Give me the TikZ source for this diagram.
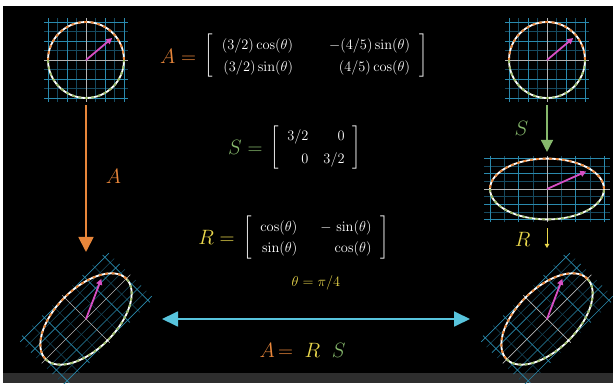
\documentclass[tikz,border=0pt]{standalone}
\usepackage{amsmath}
\usetikzlibrary{positioning,arrows.meta,calc}

\definecolor{aorange}{HTML}{E8863A}
\definecolor{sgreen}{HTML}{86B86C}
\definecolor{ryellow}{HTML}{EAD84C}
\definecolor{swapblue}{HTML}{58C4DD}
\definecolor{vecpink}{HTML}{D64FC4}
\definecolor{gridblue}{HTML}{2A8AAE}
\definecolor{gridfaint}{HTML}{164A60}
\definecolor{axisgrey}{HTML}{B4B4B4}
\definecolor{bargrey}{HTML}{2E2E2E}
\definecolor{dotgreen}{HTML}{9DBB6A}

\newcommand{\matfont}{\fontsize{13.5}{16}\selectfont}
\newcommand{\eqfont}{\fontsize{22.5}{27}\selectfont}

\tikzset{
  figspot/.style={inner sep=0pt, outer sep=0pt},
  gridminor/.style={draw=gridfaint, line width=0.45pt},
  gridmajor/.style={draw=gridblue, line width=0.7pt},
  gridaxis/.style={draw=axisgrey, line width=0.7pt},
  ring/.style={draw=white, line width=1.8pt},
  ringtop/.style={draw=aorange, line width=1.9pt, dash pattern=on 3pt off 3.5pt},
  ringbot/.style={draw=dotgreen, line width=1.9pt, dash pattern=on 3pt off 3.5pt},
  vec/.style={draw=vecpink, line width=1.8pt, -{Triangle[length=6pt,width=6pt]}},
  mapA/.style={draw=aorange, line width=1.8pt, -{Triangle[length=15pt,width=15pt]}},
  mapS/.style={draw=sgreen, line width=1.5pt, -{Triangle[length=12pt,width=12pt]}},
  mapR/.style={draw=ryellow, line width=1pt, -{Triangle[length=4pt,width=4.5pt]}},
  swap/.style={draw=swapblue, line width=1.8pt,
    {Triangle[length=16pt,width=15pt]}-{Triangle[length=16pt,width=15pt]}},
  txt/.style={text=white, inner sep=0pt},
}

\begin{document}
\begin{tikzpicture}[x=1pt, y=1pt]
  % frame
  \fill[white] (0,0) rectangle (613,383);
  \fill[black] (3,10) rectangle (613,377);
  \fill[bargrey] (3,0) rectangle (613,10);
  \useasboundingbox (0,0) rectangle (613,383);

  % the five unit circles / images
  \foreach \fig/\cx/\cy/\rot/\sx/\sy/\w/\h in {circA/86/323/0/1/1/83.6/83.6,
      circB/547/323/0/1/1/83.6/83.6, ellS/547/194/0/1.5/0.8/125.4/66.9,
      ellA/86/64/45/1.5/0.8/136/136, ellRS/547/64/45/1.5/0.8/136/136} {
    \begin{scope}[shift={(\cx,\cy)}, rotate=\rot, xscale=\sx, yscale=\sy]
      \foreach \k in {-28.5,-9.5,9.5,28.5} {
        \draw[gridminor] (\k,-41.8) -- (\k,41.8);
        \draw[gridminor] (-41.8,\k) -- (41.8,\k);
      }
      \foreach \k in {-38,-19,19,38} {
        \draw[gridmajor] (\k,-41.8) -- (\k,41.8);
        \draw[gridmajor] (-41.8,\k) -- (41.8,\k);
      }
      \draw[gridaxis] (-41.8,0) -- (41.8,0);
      \draw[gridaxis] (0,-41.8) -- (0,41.8);
      \draw[ring] (0,0) circle (38);
      \draw[ringtop] (38,0) arc (0:180:38);
      \draw[ringbot] (-38,0) arc (180:360:38);
      \draw[vec] (0,0) -- (26.2,22);
    \end{scope}
    \node[figspot, minimum width=\w pt, minimum height=\h pt] (\fig) at (\cx,\cy) {};
  }

  % maps
  \draw[mapA, shorten >=-1pt, shorten <=3.2pt] (circA) --
    node[txt, right=19pt, text=aorange, font=\eqfont] (labA) {$A$} (ellA);
  \draw[mapS, shorten >=3.6pt, shorten <=3.2pt] (circB) --
    node[txt, left=18pt, text=sgreen, font=\eqfont] (labS) {$S$} (ellS);
  \draw[mapR, shorten >=3pt, shorten <=5.6pt] (ellS) --
    node[txt, left=16pt, yshift=-3pt, text=ryellow, font=\eqfont] (labR) {$R$} (ellRS);
  \draw[swap, shorten <=8pt, shorten >=9pt] (ellA) -- (ellRS);

  % matrices
  \node[txt, font=\matfont] (matA) at (316,327)
    {$\renewcommand{\arraystretch}{1.35}\left[\begin{array}{@{\hspace{9pt}}r@{\hspace{36pt}}r@{\hspace{9pt}}}
      (3/2)\cos(\theta) & -(4/5)\sin(\theta)\\
      (3/2)\sin(\theta) & (4/5)\cos(\theta)
    \end{array}\right]$};
  \node[txt, font=\eqfont, text=aorange, left=8pt of matA] (lhsA) {$A=$};

  \node[txt, font=\matfont] (matS) at (316,235.5)
    {$\renewcommand{\arraystretch}{1.45}\left[\begin{array}{@{\hspace{8pt}}r@{\hspace{15pt}}r@{\hspace{8pt}}}
      3/2 & 0\\
      0 & 3/2
    \end{array}\right]$};
  \node[txt, font=\eqfont, text=sgreen, left=8pt of matS] (lhsS) {$S=$};

  \node[txt, font=\matfont] (matR) at (316,145.5)
    {$\renewcommand{\arraystretch}{1.35}\left[\begin{array}{@{\hspace{9pt}}r@{\hspace{23pt}}r@{\hspace{9pt}}}
      \cos(\theta) & -\,\sin(\theta)\\
      \sin(\theta) & \cos(\theta)
    \end{array}\right]$};
  \node[txt, font=\eqfont, text=ryellow, left=8pt of matR] (lhsR) {$R=$};

  \node[txt, font=\matfont, text=ryellow] (thetaval) at (316,100) {$\theta=\pi/4$};

  \node[txt, font=\eqfont] (eqARS) at (302.5,33)
    {$\textcolor{aorange}{A}\,\textcolor{aorange}{=}\;\;\textcolor{ryellow}{R}\;\;\textcolor{sgreen}{S}$};
\end{tikzpicture}
\end{document}
